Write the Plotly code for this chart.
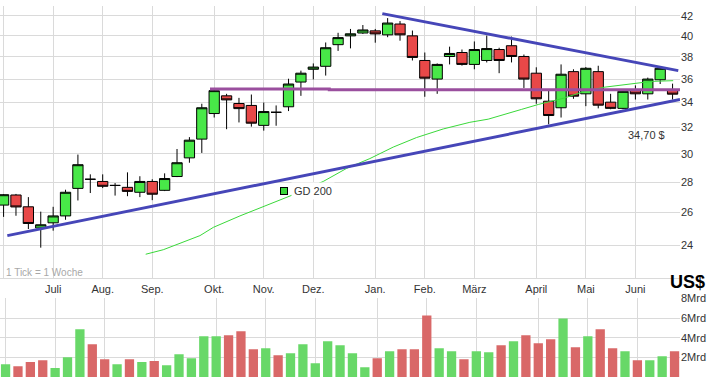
import math
import plotly.graph_objects as go

# ---------------- data ----------------
month_idx = [0, 4, 8, 12, 17, 21, 25, 30, 34, 38, 43, 47, 51]
month_lbl = ["", "Juli", "Aug.", "Sep.", "Okt.", "Nov.", "Dez.", "Jan.", "Feb.", "März", "April", "Mai", "Juni"]

opens = [26.48, 27.14, 26.37, 25.04, 25.36, 25.79, 27.58, 28.20, 28.05, 27.78, 27.65, 27.32, 28.05, 27.45,
         28.39, 29.71, 31.10, 33.10, 34.56, 33.92, 33.76, 32.16, 33.20, 33.65, 35.74, 36.87, 37.14, 39.15,
         40.00, 40.28, 40.49, 40.10, 41.17, 40.00, 37.67, 36.00, 38.04, 38.41, 37.31, 37.67, 38.69, 39.05,
         38.04, 36.52, 34.11, 33.57, 36.66, 34.73, 36.66, 34.03, 33.52, 35.00, 34.73, 35.94, 35.03]
highs = [27.20, 27.21, 27.00, 26.06, 26.37, 27.49, 29.95, 28.54, 28.54, 27.94, 28.68, 28.41, 28.20, 28.61,
         30.36, 31.25, 33.90, 35.23, 34.73, 34.39, 34.67, 34.00, 33.76, 36.03, 36.75, 37.40, 39.36, 40.30,
         40.68, 41.07, 40.68, 41.77, 41.47, 40.52, 38.41, 37.40, 38.96, 38.69, 39.46, 40.03, 38.86, 39.93,
         38.22, 37.05, 35.03, 37.31, 36.87, 37.07, 37.19, 34.73, 35.00, 35.45, 36.13, 37.10, 35.60]
lows = [25.73, 25.80, 24.98, 23.87, 24.88, 25.55, 26.78, 27.27, 27.60, 27.10, 27.06, 27.00, 26.80, 27.40,
        28.35, 29.36, 30.07, 32.78, 31.86, 32.39, 32.06, 31.75, 32.13, 33.30, 34.56, 35.97, 36.31, 38.56,
        38.80, 40.19, 39.34, 39.87, 39.53, 37.67, 34.48, 34.73, 37.31, 37.20, 36.87, 37.49, 36.52, 37.49,
        35.23, 33.90, 32.24, 32.78, 34.31, 33.70, 33.52, 33.45, 33.45, 34.25, 34.25, 35.57, 34.25]
closes = [27.16, 26.36, 25.32, 25.24, 25.79, 27.32, 29.22, 28.20, 27.72, 27.78, 27.38, 28.05, 27.19, 28.25,
          29.36, 31.02, 33.57, 35.00, 34.22, 33.50, 32.33, 33.26, 33.20, 35.57, 36.52, 37.07, 38.86, 39.83,
          40.20, 40.58, 40.19, 41.27, 40.10, 37.95, 36.08, 37.31, 38.32, 37.31, 38.69, 38.78, 37.67, 38.04,
          36.00, 34.31, 32.94, 36.43, 34.53, 36.96, 33.78, 33.52, 34.94, 34.73, 36.00, 36.96, 34.70]
volume_mrd = [1.31, 1.11, 1.52, 1.72, 0.91, 2.02, 4.85, 3.33, 1.82, 1.31, 1.82, 1.52, 1.62, 1.21, 2.32,
              1.92, 4.14, 4.14, 4.24, 4.65, 2.83, 2.93, 2.22, 2.42, 3.33, 1.41, 3.64, 3.23, 2.42, 1.00,
              1.92, 2.63, 2.83, 2.83, 6.26, 2.93, 2.63, 1.82, 2.63, 2.53, 3.23, 3.64, 4.24, 3.43, 3.84,
              5.96, 3.03, 4.14, 4.85, 2.93, 2.63, 1.72, 1.72, 2.12, 2.63]

gd200_x = [11.47, 12.89, 15.85, 16.93, 19.08, 23.2, 25.8, 27.69, 29.57, 31.45, 33.34, 35.49, 37.64,
           39.12, 41.82, 43.16, 45.31, 46.92, 48.54, 50.69, 52.31, 54.05]
gd200_y = [23.49, 23.75, 24.58, 25.08, 25.79, 27.10, 28.05, 28.96, 29.66, 30.50, 31.22, 31.88, 32.40,
           32.65, 33.44, 33.84, 34.39, 34.96, 35.30, 35.57, 35.80, 35.86]

support_x = [0.3, 54.6]
support_y = [24.58, 34.25]
resist_x = [30.57, 54.46]
resist_y = [42.23, 36.75]
level_x = [16.66, 26.29, 26.29, 54.9]
level_y = [35.15, 35.15, 35.07, 35.07]

price_ticks = [24, 26, 28, 30, 32, 34, 36, 38, 40, 42]
vol_ticks = [0, 2, 4, 6, 8]
vol_lbl = ["0Mrd", "2Mrd", "4Mrd", "6Mrd", "8Mrd"]

# ---------------- figure ----------------
n = len(closes)
weeks = list(range(n))
FONT = "Arial, Liberation Sans, sans-serif"
GRID = "#dadada"
GD_GREEN = "#3ad83a"

vol_colors = []
for i in range(n):
    up = True if i == 0 else closes[i] >= closes[i - 1]
    vol_colors.append("#68d868" if up else "#d96868")

fig = go.Figure()

fig.add_trace(go.Candlestick(
    x=weeks, open=opens, high=highs, low=lows, close=closes,
    increasing=dict(fillcolor="#48e848", line=dict(color="black", width=1)),
    decreasing=dict(fillcolor="#e84848", line=dict(color="black", width=1)),
    whiskerwidth=0, showlegend=False, xaxis="x", yaxis="y"))

fig.add_trace(go.Scatter(x=gd200_x, y=gd200_y, mode="lines",
                         line=dict(color=GD_GREEN, width=1), showlegend=False,
                         xaxis="x", yaxis="y"))
fig.add_trace(go.Scatter(x=level_x, y=level_y, mode="lines",
                         line=dict(color="#9a4f9e", width=3), showlegend=False,
                         xaxis="x", yaxis="y"))
fig.add_trace(go.Scatter(x=support_x, y=support_y, mode="lines",
                         line=dict(color="#4646b8", width=3), showlegend=False,
                         xaxis="x", yaxis="y"))
fig.add_trace(go.Scatter(x=resist_x, y=resist_y, mode="lines",
                         line=dict(color="#4646b8", width=3), showlegend=False,
                         xaxis="x", yaxis="y"))

fig.add_trace(go.Bar(x=weeks, y=volume_mrd, marker=dict(color=vol_colors, line=dict(width=0)),
                     showlegend=False, xaxis="x2", yaxis="y2"))

W, H = 711, 381
R = 31
PW = W - R


def px(xp):
    return xp / PW


def py(yp):
    return (H - yp) / H


fig.update_layout(
    width=W, height=H,
    margin=dict(l=0, r=R, t=0, b=0),
    paper_bgcolor="white", plot_bgcolor="white",
    font=dict(family=FONT, size=11, color="#333333"),
    showlegend=False,
    bargap=0.25, boxgap=0.17, boxgroupgap=0,
    xaxis=dict(domain=[0, 1], range=[-0.29, 54.6], anchor="y",
               tickmode="array", tickvals=month_idx, ticktext=month_lbl,
               showgrid=True, gridcolor=GRID, gridwidth=1, zeroline=False,
               showline=True, linecolor=GRID, mirror=False, ticks="",
               tickfont=dict(size=11, color="#333333"),
               rangeslider=dict(visible=False), fixedrange=True),
    yaxis=dict(domain=[py(276.7), 1], type="log",
               range=[math.log10(22.15), math.log10(43.02)],
               side="right", anchor="x", tickmode="array", tickvals=price_ticks,
               ticktext=[str(t) for t in price_ticks],
               showgrid=True, gridcolor=GRID, gridwidth=1, zeroline=False,
               showline=False, ticks="", tickfont=dict(size=11, color="#333333")),
    xaxis2=dict(domain=[0, 1], range=[-0.45, 54.44], anchor="y2",
                tickmode="array", tickvals=month_idx, showticklabels=False,
                showgrid=True, gridcolor=GRID, gridwidth=1, zeroline=False,
                showline=False, ticks=""),
    yaxis2=dict(domain=[py(377), py(297)], range=[0, 8], side="right", anchor="x2",
                tickmode="array", tickvals=vol_ticks, ticktext=vol_lbl,
                showgrid=True, gridcolor=GRID, gridwidth=1, zeroline=False,
                showline=False, ticks="", tickfont=dict(size=11, color="#333333")),
    annotations=[
        dict(text="1 Tick = 1 Woche", xref="paper", yref="paper", x=px(4), y=py(271),
             xanchor="left", yanchor="middle", showarrow=False,
             font=dict(size=10, color="#a8a8a8")),
        dict(text=("%.2f" % closes[-1]).replace(".", ",") + " $", xref="paper", yref="paper",
             x=px(646.7), y=py(131), xanchor="center", yanchor="middle", showarrow=False,
             font=dict(size=11, color="#333333")),
        dict(text="<b>US$</b>", xref="paper", yref="paper", x=px(687.5), y=py(280.5),
             xanchor="center", yanchor="middle", showarrow=False,
             font=dict(size=18, color="black")),
        # GD 200 key
        dict(text="GD 200", xref="paper", yref="paper", x=px(291), y=py(187.5),
             xanchor="left", yanchor="middle", showarrow=False, bgcolor="white",
             borderpad=2, font=dict(size=11, color="#333333")),
        dict(text=" ", xref="paper", yref="paper", x=px(284), y=py(187.5),
             xanchor="center", yanchor="middle", showarrow=False, width=6, height=6,
             bgcolor=GD_GREEN, bordercolor="black", borderwidth=1, borderpad=0,
             font=dict(size=4)),
    ],
)

fig.write_html("out.html", config={"displayModeBar": False},
               post_script="document.body.style.margin='0';")
